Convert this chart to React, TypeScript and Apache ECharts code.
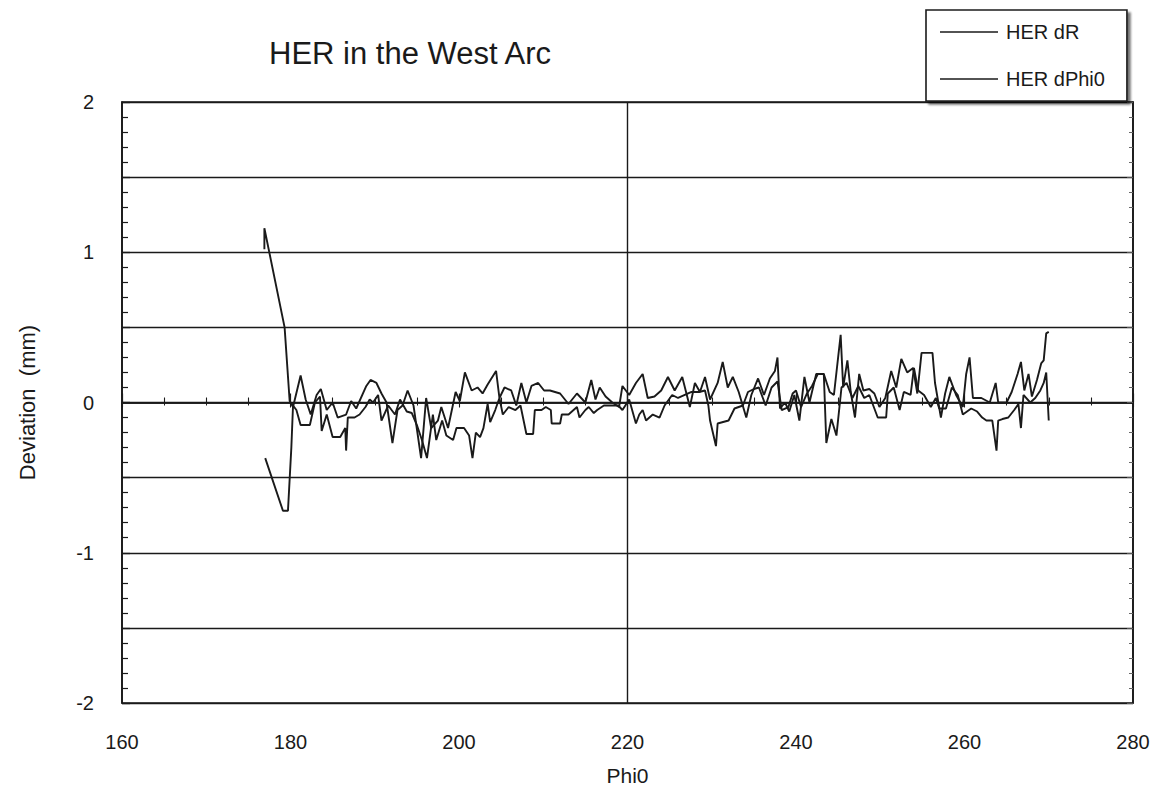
import React, { useEffect, useRef } from "react";
import * as echarts from "echarts";

const titleText = "HER in the West Arc";
const xTicks = [160, 180, 200, 220, 240, 260, 280];
const yTickLabels = ["-2", "-1", "0", "1", "2"];
const seriesNames = ["HER dR", "HER dPhi0"];

const dRPoints: [number, number][] = [
  [176.9, 1.02], [176.9, 1.16], [179.3, 0.5], [179.9, 0.01], [180.3, -0.03], [181.2, 0.18], [181.8, 0.02],
  [182.4, -0.08], [183.1, 0.05], [183.6, 0.09], [184.3, -0.05], [185.0, 0.0], [185.6, -0.1], [186.6, -0.08],
  [187.2, 0.01], [187.8, -0.04], [189.0, 0.11], [189.5, 0.15], [190.2, 0.13], [190.8, 0.06], [191.4, 0.0],
  [192.1, -0.27], [192.7, -0.05], [193.3, -0.02], [193.9, 0.08], [194.6, -0.02], [195.5, -0.37], [196.1, 0.03],
  [196.7, -0.17], [197.5, -0.12], [197.9, -0.03], [198.7, -0.17], [199.6, 0.07], [200.1, 0.01], [200.7, 0.2],
  [201.5, 0.08], [202.2, 0.1], [202.8, 0.06], [203.4, 0.12], [204.4, 0.21], [204.8, 0.03], [205.4, 0.1],
  [206.2, 0.08], [206.8, -0.02], [207.4, 0.13], [208.0, 0.0], [208.6, 0.11], [209.4, 0.13], [210.1, 0.08],
  [210.8, 0.08], [212.0, 0.06], [213.0, -0.01], [214.0, 0.06], [215.0, 0.0], [215.7, 0.15], [216.2, 0.02],
  [216.7, 0.1], [217.4, 0.04], [218.2, 0.0], [219.0, -0.03], [219.4, 0.11], [220.2, 0.05], [221.0, 0.13],
  [221.8, 0.19], [222.4, 0.03], [223.2, 0.04], [224.0, 0.08], [224.8, 0.17], [225.6, 0.08], [226.5, 0.17],
  [227.4, -0.03], [228.0, 0.13], [228.6, 0.07], [229.2, 0.17], [229.8, 0.02], [230.7, 0.13], [231.3, 0.27],
  [231.9, 0.1], [232.5, 0.17], [233.2, 0.07], [234.1, -0.1], [234.7, 0.05], [235.5, 0.16], [236.2, 0.05],
  [236.9, 0.16], [237.5, 0.21], [237.8, 0.3], [238.1, -0.04], [238.7, 0.0], [239.2, -0.06], [239.8, 0.05],
  [240.4, -0.12], [241.0, 0.17], [241.6, 0.0], [242.4, 0.19], [243.3, 0.19], [244.0, 0.07], [244.5, 0.05],
  [245.0, 0.3], [245.3, 0.45], [245.6, 0.1], [246.1, 0.28], [246.5, 0.07], [247.0, -0.1], [247.5, 0.19],
  [248.0, 0.08], [248.7, 0.09], [249.3, 0.06], [249.9, -0.03], [250.6, 0.03], [251.3, 0.21], [251.9, 0.1],
  [252.5, 0.29], [253.2, 0.2], [253.9, 0.23], [254.4, 0.06], [254.9, 0.33], [256.2, 0.33], [256.5, 0.13],
  [257.2, -0.1], [257.7, 0.06], [258.2, 0.17], [259.0, 0.05], [259.8, -0.03], [260.2, 0.19], [260.6, 0.3],
  [261.0, 0.03], [262.0, 0.03], [263.0, 0.0], [263.7, 0.13], [264.0, 0.0], [265.0, 0.0], [265.6, 0.07],
  [266.3, 0.19], [266.7, 0.27], [267.1, 0.08], [267.6, 0.19], [268.0, 0.04], [268.6, 0.15], [269.1, 0.26],
  [269.4, 0.28], [269.7, 0.46], [270.0, 0.47],
];

const dPhiPoints: [number, number][] = [
  [177.0, -0.37], [179.1, -0.72], [179.7, -0.72], [180.1, -0.3], [180.3, -0.02], [180.7, -0.05], [181.2, -0.15],
  [182.3, -0.15], [182.9, 0.0], [183.5, 0.04], [183.7, -0.19], [184.3, -0.08], [185.0, -0.23], [185.9, -0.23],
  [186.5, -0.17], [186.6, -0.32], [186.8, -0.1], [187.6, -0.1], [188.2, -0.08], [188.9, -0.03], [189.4, 0.02],
  [189.8, 0.0], [190.4, 0.05], [190.8, -0.12], [191.6, -0.02], [192.4, -0.08], [193.0, 0.02], [193.8, -0.06],
  [194.4, -0.07], [195.0, -0.15], [195.6, -0.25], [196.2, -0.37], [196.9, -0.08], [197.3, -0.25], [198.0, -0.12],
  [198.5, -0.22], [199.3, -0.25], [199.7, -0.17], [200.6, -0.17], [201.2, -0.22], [201.6, -0.37], [202.0, -0.2],
  [202.5, -0.23], [202.9, -0.17], [203.4, -0.01], [203.7, -0.13], [204.3, -0.05], [204.8, 0.03], [205.2, -0.08],
  [205.9, -0.03], [206.7, -0.05], [207.3, -0.02], [208.0, -0.21], [208.8, -0.21], [209.0, -0.05], [209.8, -0.05],
  [210.3, -0.03], [210.9, -0.05], [211.0, -0.14], [212.0, -0.14], [212.2, -0.08], [213.0, -0.08], [213.6, -0.05],
  [214.0, -0.03], [214.3, -0.1], [215.0, -0.05], [215.4, -0.03], [216.0, -0.07], [216.4, -0.05], [217.2, -0.02],
  [218.9, -0.02], [219.4, -0.05], [220.2, 0.02], [221.0, -0.14], [221.4, -0.08], [221.8, -0.05], [222.2, -0.12],
  [223.0, -0.08], [223.8, -0.1], [224.4, -0.02], [225.3, 0.05], [226.0, 0.03], [226.8, 0.05], [227.6, 0.07],
  [228.5, 0.07], [229.2, 0.08], [229.6, -0.02], [229.8, -0.12], [230.5, -0.29], [230.7, -0.14], [232.0, -0.12],
  [232.7, -0.04], [233.7, -0.02], [234.3, 0.07], [235.0, 0.09], [235.6, 0.1], [236.4, -0.02], [237.1, 0.1],
  [237.8, 0.14], [238.3, -0.05], [239.1, -0.03], [239.6, 0.06], [240.0, 0.08], [240.6, -0.03], [241.3, 0.06],
  [241.9, 0.11], [242.6, 0.19], [243.3, 0.19], [243.6, -0.27], [244.2, -0.11], [244.8, -0.22], [245.4, 0.1],
  [246.0, 0.13], [246.7, 0.03], [247.4, 0.11], [248.1, 0.03], [248.7, 0.05], [249.7, -0.1], [250.7, -0.1],
  [250.9, 0.06], [251.6, 0.1], [252.3, -0.05], [252.8, 0.07], [253.6, 0.05], [254.0, 0.23], [254.5, 0.08],
  [255.2, 0.05], [256.0, -0.03], [256.6, 0.03], [257.0, -0.04], [257.8, -0.04], [258.5, 0.1], [259.2, 0.05],
  [259.8, -0.08], [260.3, -0.06], [260.8, -0.04], [261.5, -0.06], [262.1, -0.1], [262.6, -0.12], [263.3, -0.12],
  [263.8, -0.32], [264.0, -0.12], [264.5, -0.11], [265.2, -0.1], [265.9, -0.05], [266.4, -0.01], [266.7, -0.17],
  [267.0, 0.05], [267.8, 0.0], [268.4, 0.03], [269.0, 0.08], [269.4, 0.13], [269.7, 0.2], [270.0, -0.12],
];

const FONT = "'Liberation Sans', Arial, Helvetica, sans-serif";
const INK = "#1a1a1a";

export default function App() {
  const ref = useRef<HTMLDivElement>(null);

  useEffect(() => {
    if (!ref.current) return;
    const chart = echarts.init(ref.current, undefined, { renderer: "svg" });

    const yLabel = (v: number) => {
      const s = String(Math.round(v));
      return Math.abs(v - Math.round(v)) < 1e-6 && yTickLabels.includes(s) ? s : "";
    };
    const xLabel = (v: number) => (xTicks.includes(Math.round(v)) ? String(Math.round(v)) : "");

    const axisLineStyle = { color: INK, width: 1.7 };

    const option: any = {
      animation: false,
      backgroundColor: "#ffffff",
      textStyle: { fontFamily: FONT, color: INK },
      title: {
        text: titleText,
        left: 264,
        top: 33,
        textStyle: { fontFamily: FONT, fontSize: 31, fontWeight: "normal", color: INK },
      },
      legend: {
        data: seriesNames,
        orient: "vertical",
        left: 926,
        top: 10,
        icon: "rect",
        itemWidth: 58,
        itemHeight: 1.5,
        itemGap: 27,
        padding: [12, 22, 12, 14],
        backgroundColor: "#ffffff",
        borderColor: INK,
        borderWidth: 1.6,
        shadowColor: "rgba(0,0,0,0.55)",
        shadowBlur: 2,
        shadowOffsetX: 3,
        shadowOffsetY: 3,
        textStyle: { fontFamily: FONT, fontSize: 20, color: INK, padding: [0, 0, 0, 3] },
      },
      grid: {
        left: 122,
        right: 26,
        top: 102,
        bottom: 92,
        show: true,
        borderColor: INK,
        borderWidth: 1.7,
        backgroundColor: "transparent",
      },
      xAxis: [
        {
          type: "value",
          min: 160,
          max: 280,
          interval: 20,
          position: "bottom",
          name: "Phi0",
          nameLocation: "middle",
          nameGap: 62,
          nameTextStyle: { fontFamily: FONT, fontSize: 21, color: INK },
          axisLine: { show: true, lineStyle: axisLineStyle },
          axisTick: { show: true, inside: true, length: 9, lineStyle: { color: INK, width: 1.2 } },
          minorTick: { show: true, splitNumber: 4, length: 5, lineStyle: { color: INK, width: 1.1 } },
          axisLabel: { formatter: xLabel, fontFamily: FONT, fontSize: 20, color: INK, margin: 29 },
          splitLine: { show: false },
        },
        {
          type: "value",
          min: 160,
          max: 280,
          interval: 20,
          position: "top",
          axisLine: { show: true, lineStyle: axisLineStyle },
          axisTick: { show: true, inside: true, length: 5, lineStyle: { color: INK, width: 1.1 } },
          minorTick: { show: true, splitNumber: 4, length: 3, lineStyle: { color: INK, width: 1 } },
          axisLabel: { show: false },
          splitLine: { show: false },
        },
      ],
      yAxis: [
        {
          type: "value",
          min: -2,
          max: 2,
          interval: 0.5,
          position: "left",
          name: "Deviation  (mm)",
          nameLocation: "middle",
          nameRotate: 90,
          nameGap: 84,
          nameTextStyle: { fontFamily: FONT, fontSize: 22, color: INK },
          axisLine: { show: true, lineStyle: axisLineStyle },
          axisTick: { show: true, inside: true, length: 8, lineStyle: { color: INK, width: 1.3 } },
          minorTick: { show: true, splitNumber: 5, length: 6, lineStyle: { color: INK, width: 1.2 } },
          axisLabel: { formatter: yLabel, fontFamily: FONT, fontSize: 20, color: INK, margin: 28 },
          splitLine: { show: true, lineStyle: { color: INK, width: 1.3 } },
        },
        {
          type: "value",
          min: -2,
          max: 2,
          interval: 0.5,
          position: "right",
          axisLine: { show: true, lineStyle: axisLineStyle },
          axisTick: { show: true, inside: true, length: 6, lineStyle: { color: "#555", width: 1 } },
          minorTick: { show: true, splitNumber: 5, length: 4, lineStyle: { color: "#666", width: 1 } },
          axisLabel: { show: false },
          splitLine: { show: false },
        },
      ],
      series: [
        {
          name: seriesNames[0],
          type: "line",
          data: dRPoints,
          xAxisIndex: 0,
          yAxisIndex: 0,
          showSymbol: false,
          symbol: "none",
          color: INK,
          lineStyle: { color: INK, width: 1.9 },
          markLine: {
            silent: true,
            symbol: "none",
            label: { show: false },
            lineStyle: { color: INK, width: 1.4, type: "solid" },
            data: [{ xAxis: 220 }],
          },
          z: 3,
        },
        {
          name: seriesNames[1],
          type: "line",
          data: dPhiPoints,
          xAxisIndex: 0,
          yAxisIndex: 0,
          showSymbol: false,
          symbol: "none",
          color: INK,
          lineStyle: { color: INK, width: 1.9 },
          z: 3,
        },
      ],
    };

    chart.setOption(option);
    return () => chart.dispose();
  }, []);

  return (
    <div
      ref={ref}
      style={{ position: "fixed", left: 0, top: 0, width: 1159, height: 795, background: "#fff" }}
    />
  );
}
